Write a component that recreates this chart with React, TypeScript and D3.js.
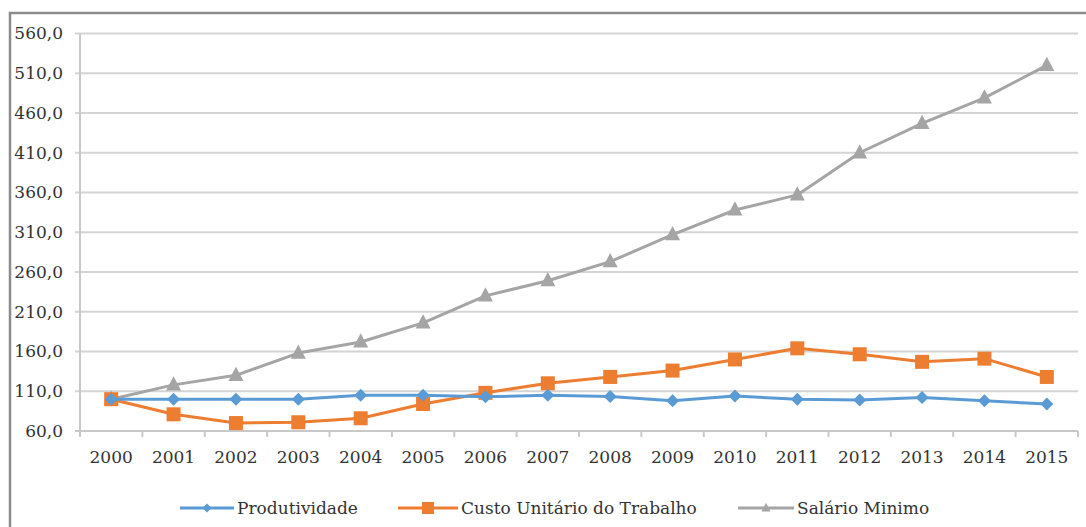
import React, { useEffect, useRef } from 'react';
import * as d3 from 'd3';

const years = ['2000', '2001', '2002', '2003', '2004', '2005', '2006', '2007', '2008', '2009', '2010', '2011', '2012', '2013', '2014', '2015'];
const produtividade = [100, 100, 100, 100, 105, 105, 103, 105, 103.5, 98, 104, 100, 99, 102, 98, 94];
const custoUnitario = [100, 81, 70, 71, 76, 94, 108, 120, 128, 136, 150, 164, 156.5, 147, 151, 128];
const salarioMinimo = [100, 118, 130, 158, 172, 196, 230, 249, 273, 307, 338, 357, 410, 447, 479, 520];
const yTicks = [60, 110, 160, 210, 260, 310, 360, 410, 460, 510, 560];

const series = [
  { name: 'Produtividade', values: produtividade, color: '#5b9bd5', marker: 'diamond' },
  { name: 'Custo Unitário do Trabalho', values: custoUnitario, color: '#ed7d31', marker: 'square' },
  { name: 'Salário Minimo', values: salarioMinimo, color: '#a5a5a5', marker: 'triangle' },
];

const W = 1086;
const H = 527;
const FONT = "'DejaVu Serif', 'Liberation Serif', serif";

export default function App() {
  const svgRef = useRef<SVGSVGElement>(null);

  useEffect(() => {
    if (!svgRef.current) return;
    const svg = d3.select(svgRef.current);
    svg.selectAll('*').remove();

    const plot = { left: 80, right: 1078, top: 33.5, bottom: 431 };

    // outer frame (runs off right/bottom edge)
    svg.append('rect')
      .attr('x', 10).attr('y', 13)
      .attr('width', W + 20).attr('height', H + 20)
      .attr('fill', '#fff')
      .attr('stroke', '#8c8c8c')
      .attr('stroke-width', 2.5);

    const x = d3.scaleBand().domain(years).range([plot.left, plot.right]);
    const y = d3.scaleLinear().domain([60, 560]).range([plot.bottom, plot.top]);
    const cx = (i: number) => (x(years[i]) || 0) + x.bandwidth() / 2;

    // gridlines
    svg.append('g')
      .selectAll('line')
      .data(yTicks)
      .enter()
      .append('line')
      .attr('x1', plot.left - 5)
      .attr('x2', plot.right)
      .attr('y1', d => y(d))
      .attr('y2', d => y(d))
      .attr('stroke', '#d4d4d4')
      .attr('stroke-width', 2);

    // y axis line
    svg.append('line')
      .attr('x1', plot.left).attr('x2', plot.left)
      .attr('y1', plot.top).attr('y2', plot.bottom)
      .attr('stroke', '#c8c8c8').attr('stroke-width', 2);

    // x axis line + ticks
    svg.append('line')
      .attr('x1', plot.left - 5).attr('x2', plot.right)
      .attr('y1', plot.bottom).attr('y2', plot.bottom)
      .attr('stroke', '#c8c8c8').attr('stroke-width', 2);

    const bounds = years.map(yr => x(yr) || 0).concat([plot.right]);
    svg.append('g')
      .selectAll('line')
      .data(bounds)
      .enter()
      .append('line')
      .attr('x1', d => d).attr('x2', d => d)
      .attr('y1', plot.bottom).attr('y2', plot.bottom + 6)
      .attr('stroke', '#c8c8c8').attr('stroke-width', 2);

    const textStyle = (sel: any) => sel
      .attr('font-family', FONT)
      .attr('font-size', 17)
      .attr('fill', '#333');

    // y labels
    svg.append('g')
      .selectAll('text')
      .data(yTicks)
      .enter()
      .append('text')
      .attr('x', 63)
      .attr('y', d => y(d))
      .attr('dy', '0.35em')
      .attr('text-anchor', 'end')
      .call(textStyle)
      .text(d => d3.format('.1f')(d).replace('.', ','));

    // x labels
    svg.append('g')
      .selectAll('text')
      .data(years)
      .enter()
      .append('text')
      .attr('x', (d, i) => cx(i))
      .attr('y', 463)
      .attr('text-anchor', 'middle')
      .call(textStyle)
      .text(d => d);

    const drawMarker = (g: any, kind: string, color: string, px: number, py: number, s: number) => {
      if (kind === 'diamond') {
        g.append('path')
          .attr('d', `M${px},${py - s}L${px + s},${py}L${px},${py + s}L${px - s},${py}Z`)
          .attr('fill', color);
      } else if (kind === 'square') {
        g.append('rect')
          .attr('x', px - s).attr('y', py - s)
          .attr('width', 2 * s).attr('height', 2 * s)
          .attr('fill', color);
      } else {
        g.append('path')
          .attr('d', `M${px},${py - s * 1.15}L${px + s},${py + s * 0.75}L${px - s},${py + s * 0.75}Z`)
          .attr('fill', color);
      }
    };

    const markerSize: Record<string, number> = { diamond: 6.5, square: 7, triangle: 7.5 };

    // draw gray first, then orange, then blue on top
    [...series].reverse().forEach(s => {
      const line = d3.line<number>()
        .x((d, i) => cx(i))
        .y(d => y(d));
      svg.append('path')
        .datum(s.values)
        .attr('fill', 'none')
        .attr('stroke', s.color)
        .attr('stroke-width', 3)
        .attr('stroke-linejoin', 'round')
        .attr('d', line);
      const g = svg.append('g');
      s.values.forEach((v, i) => drawMarker(g, s.marker, s.color, cx(i), y(v), markerSize[s.marker]));
    });

    // legend
    const legendY = 508;
    const legendItems = [
      { ...series[0], x0: 180, x1: 234 },
      { ...series[1], x0: 398, x1: 458 },
      { ...series[2], x0: 738, x1: 794 },
    ];
    legendItems.forEach(it => {
      svg.append('line')
        .attr('x1', it.x0).attr('x2', it.x1)
        .attr('y1', legendY).attr('y2', legendY)
        .attr('stroke', it.color).attr('stroke-width', 3);
      const g = svg.append('g');
      drawMarker(g, it.marker, it.color, (it.x0 + it.x1) / 2, legendY, it.marker === 'square' ? 6 : 4.5);
      svg.append('text')
        .attr('x', it.x1 + 3)
        .attr('y', legendY)
        .attr('dy', '0.35em')
        .call(textStyle)
        .text(it.name);
    });
  }, []);

  return (
    <div style={{ position: 'absolute', left: 0, top: 0, width: W, height: H, overflow: 'hidden', background: '#fff' }}>
      <svg ref={svgRef} width={W} height={H}></svg>
    </div>
  );
}
